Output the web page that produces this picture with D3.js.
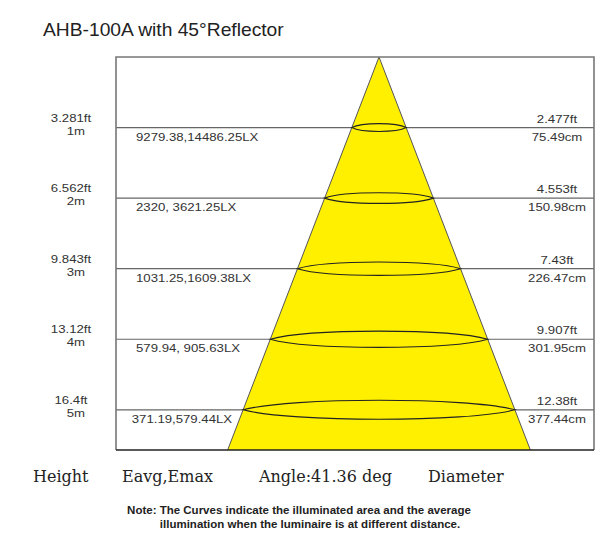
<!DOCTYPE html>
<html><head><meta charset="utf-8">
<script src="https://cdn.jsdelivr.net/npm/d3@7"></script>
<style>body{margin:0;background:#fff;} svg{display:block;}</style>
</head><body>
<script>
const title = "AHB-100A with 45°Reflector";
const distances = [1, 2, 3, 4, 5];
const heightFt = ["3.281ft", "6.562ft", "9.843ft", "13.12ft", "16.4ft"];
const heightM = ["1m", "2m", "3m", "4m", "5m"];
const eavg = [9279.38, 2320, 1031.25, 579.94, 371.19];
const emax = [14486.25, 3621.25, 1609.38, 905.63, 579.44];
const luxLabels = ["9279.38,14486.25LX", "2320, 3621.25LX", "1031.25,1609.38LX", "579.94, 905.63LX", "371.19,579.44LX"];
const diameterFt = ["2.477ft", "4.553ft", "7.43ft", "9.907ft", "12.38ft"];
const diameterCm = [75.49, 150.98, 226.47, 301.95, 377.44];
const beamAngle = 41.36;
const footerLabels = ["Height", "Eavg,Emax", "Angle:" + beamAngle + " deg", "Diameter"];
const noteLines = ["Note: The Curves indicate the illuminated area and the average",
                   "illumination when the luminaire is at different distance."];

const W = 610, H = 540;
const svg = d3.select("body").append("svg").attr("width", W).attr("height", H);

const frame = {l: 116, r: 594, t: 57, b: 450};
const apexX = 379;
const maxD = 5.57;
const y = d3.scaleLinear().domain([0, maxD]).range([frame.t, frame.b]);
const cmPerM = diameterCm[4] / distances[4];
const x = d3.scaleLinear().domain([-300, 300]).range([apexX - 216, apexX + 216]);
const halfW = d => x(cmPerM * d / 2) - apexX;

const sans = "'Liberation Sans', Arial, sans-serif";

// title
svg.append("text").attr("transform", "translate(43,36) scale(1.1,1)")
  .attr("font-family", sans).attr("font-size", 17.5).attr("fill", "#222").text(title);

// horizontal level lines
svg.append("g").selectAll("line").data(distances).join("line")
  .attr("x1", frame.l).attr("x2", frame.r)
  .attr("y1", d => y(d)).attr("y2", d => y(d))
  .attr("stroke", "#666").attr("stroke-width", 1.2);

// cone
const coneG = svg.append("g");
coneG.append("path")
  .attr("d", `M${apexX},${y(0)} L${apexX + halfW(maxD)},${y(maxD)} L${apexX - halfW(maxD)},${y(maxD)} Z`)
  .attr("fill", "#fff000").attr("stroke", "none");
coneG.append("path")
  .attr("d", `M${apexX - halfW(maxD)},${y(maxD)} L${apexX},${y(0)} L${apexX + halfW(maxD)},${y(maxD)}`)
  .attr("fill", "none").attr("stroke", "#555").attr("stroke-width", 1);

// lens curves
coneG.selectAll("path.lens").data(distances).join("path").attr("class", "lens")
  .attr("d", d => {
    const cy = y(d), hw = halfW(d), x0 = apexX - hw, x1 = apexX + hw;
    const ry = 2.5 + 1.4 * d, h = ry / 0.75, k = hw * 0.35;
    return `M${x0},${cy} C${x0 + k},${cy - h} ${x1 - k},${cy - h} ${x1},${cy} C${x1 - k},${cy + h} ${x0 + k},${cy + h} ${x0},${cy} Z`;
  })
  .attr("fill", "none").attr("stroke", "#222").attr("stroke-width", 1.1);

// frame
svg.append("path")
  .attr("d", `M${frame.l},${frame.b} L${frame.l},${frame.t} L${frame.r},${frame.t} L${frame.r},${frame.b}`)
  .attr("fill", "none").attr("stroke", "#777").attr("stroke-width", 1.6);
svg.append("line").attr("x1", frame.l).attr("x2", frame.r).attr("y1", frame.b).attr("y2", frame.b)
  .attr("stroke", "#222").attr("stroke-width", 1.6);

const sx = 1.2;
function stretched(g, txt, px, py, anchor, size) {
  return g.append("text").attr("font-family", sans).attr("font-size", size || 11)
    .attr("fill", "#333").attr("text-anchor", anchor)
    .attr("transform", `translate(${px},${py}) scale(${sx},1)`).text(txt);
}

const lab = svg.append("g");
distances.forEach((d, i) => {
  const ly = y(d);
  stretched(lab, heightFt[i], 71, ly - 6, "middle");
  stretched(lab, heightM[i], 85, ly + 7, "end");
  const t = stretched(lab, luxLabels[i], 0, 0, "start");
  const tw = t.node().getComputedTextLength() * sx;
  const by = ly + 13;
  const coneLeft = apexX - halfW((by - frame.t) / (y(1) - y(0)));
  const lx = Math.min(136, coneLeft - tw - 6);
  t.attr("transform", `translate(${lx},${by}) scale(${sx},1)`);
  stretched(lab, diameterFt[i], 557, ly - 5, "middle");
  stretched(lab, diameterCm[i] + "cm", 557, ly + 13, "middle");
});

// footer
const serif = "'DejaVu Serif', serif";
const footX = [33, 122, 259, 428];
svg.append("g").selectAll("text").data(footerLabels).join("text")
  .attr("x", (d, i) => footX[i]).attr("y", 482)
  .attr("font-family", serif).attr("font-size", 16).attr("fill", "#222").text(d => d);

svg.append("g").selectAll("text").data(noteLines).join("text")
  .attr("x", (d, i) => i === 0 ? 299 : 310).attr("y", (d, i) => 514 + i * 14)
  .attr("text-anchor", "middle")
  .attr("font-family", sans).attr("font-weight", "bold").attr("font-size", 11.5)
  .attr("fill", "#222").text(d => d);
</script>
</body></html>
